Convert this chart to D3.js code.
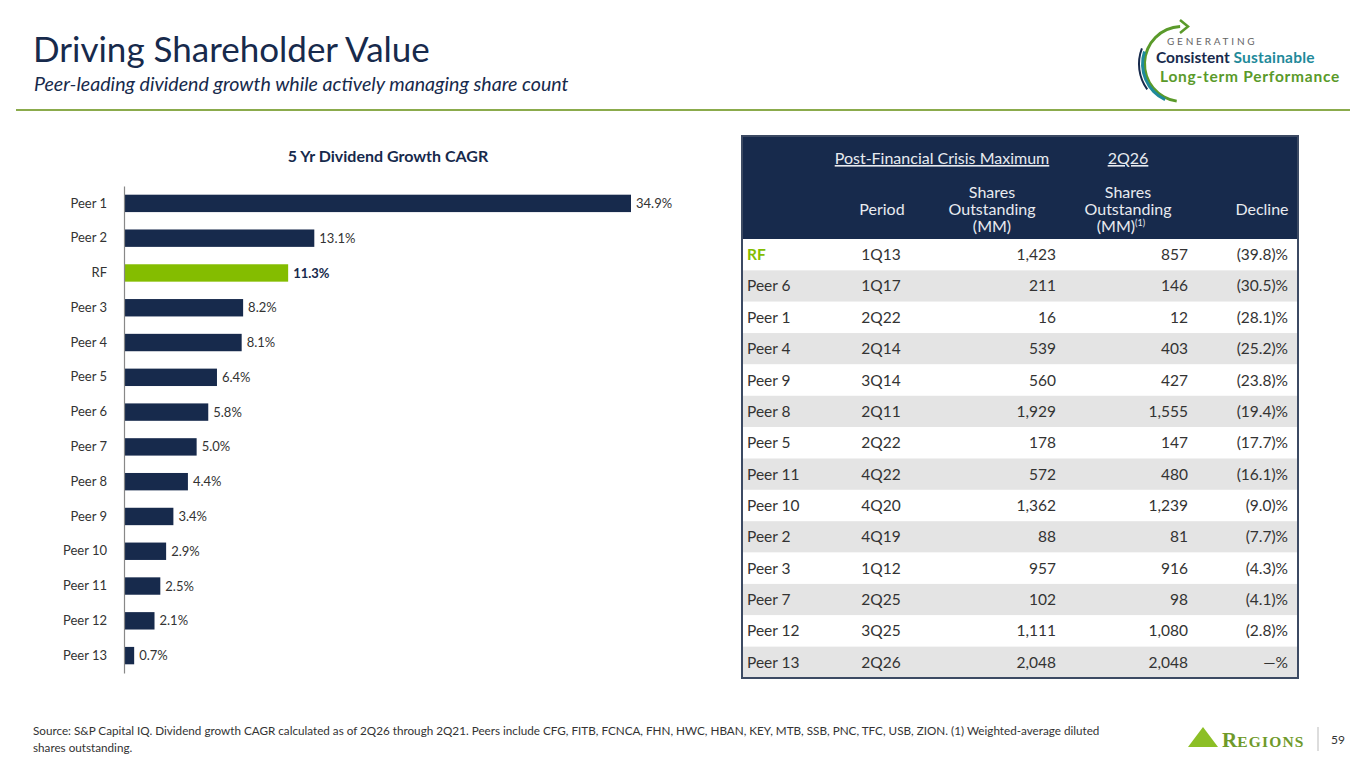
<!DOCTYPE html>
<html>
<head>
<meta charset="utf-8">
<script src="https://d3js.org/d3.v7.min.js"></script>
<style>
  body { margin: 0; background: #fff; }
  svg { display: block; font-family: Lato, "Noto Sans", sans-serif; }
</style>
</head>
<body>
<svg id="slide" width="1365" height="768"></svg>
<script>
// bar chart data
const peers = ["Peer 1", "Peer 2", "RF", "Peer 3", "Peer 4", "Peer 5", "Peer 6", "Peer 7", "Peer 8", "Peer 9", "Peer 10", "Peer 11", "Peer 12", "Peer 13"];
const cagr = [34.9, 13.1, 11.3, 8.2, 8.1, 6.4, 5.8, 5.0, 4.4, 3.4, 2.9, 2.5, 2.1, 0.7];

// table data
const tableNames = ["RF", "Peer 6", "Peer 1", "Peer 4", "Peer 9", "Peer 8", "Peer 5", "Peer 11", "Peer 10", "Peer 2", "Peer 3", "Peer 7", "Peer 12", "Peer 13"];
const periods = ["1Q13", "1Q17", "2Q22", "2Q14", "3Q14", "2Q11", "2Q22", "4Q22", "4Q20", "4Q19", "1Q12", "2Q25", "3Q25", "2Q26"];
const maxShares = [1423, 211, 16, 539, 560, 1929, 178, 572, 1362, 88, 957, 102, 1111, 2048];
const currentShares = [857, 146, 12, 403, 427, 1555, 147, 480, 1239, 81, 916, 98, 1080, 2048];
const declines = ["(39.8)%", "(30.5)%", "(28.1)%", "(25.2)%", "(23.8)%", "(19.4)%", "(17.7)%", "(16.1)%", "(9.0)%", "(7.7)%", "(4.3)%", "(4.1)%", "(2.8)%", "—%"];

const navy = "#172a4c";
const green = "#84bd00";
const textGrey = "#333";

const svg = d3.select("#slide");

// ---- header ----
svg.append("text")
    .attr("x", 33).attr("y", 62)
    .text("Driving Shareholder Value")
    .attr("font-size", "35px")
    .attr("fill", navy);

svg.append("text")
    .attr("x", 34).attr("y", 91)
    .text("Peer-leading dividend growth while actively managing share count")
    .attr("font-size", "19.6px")
    .attr("font-style", "italic")
    .attr("fill", navy);

svg.append("line")
    .attr("x1", 16).attr("x2", 1350)
    .attr("y1", 110).attr("y2", 110)
    .attr("stroke", "#8bab4c")
    .attr("stroke-width", 2);

// ---- logo top right ----
const logo = svg.append("g").attr("transform", "translate(1182,64)");
const arc = d3.arc();
logo.append("path")
    .attr("d", arc({innerRadius: 36, outerRadius: 39, startAngle: -0.05, endAngle: -3.0}))
    .attr("fill", "#5a9a2a");
logo.append("path")
    .attr("d", "M-2,-44 L6,-37.5 L-2,-31")
    .attr("fill", "none").attr("stroke", "#5a9a2a").attr("stroke-width", 2.5);
logo.append("path")
    .attr("d", arc({innerRadius: 38, outerRadius: 41, startAngle: -1.25, endAngle: -2.7}))
    .attr("fill", "#1f8a9a");
logo.append("path")
    .attr("d", arc({innerRadius: 42, outerRadius: 44, startAngle: -1.2, endAngle: -2.2}))
    .attr("fill", navy);

svg.append("text")
    .attr("x", 1167).attr("y", 45)
    .text("GENERATING")
    .attr("font-size", "10px")
    .attr("letter-spacing", "2.8px")
    .attr("fill", "#666");
const l2 = svg.append("text")
    .attr("x", 1156).attr("y", 63)
    .attr("font-size", "15.5px")
    .attr("font-weight", "bold");
l2.append("tspan").text("Consistent ").attr("fill", navy);
l2.append("tspan").text("Sustainable").attr("fill", "#1f8a9a").attr("letter-spacing", "0.2px");
svg.append("text")
    .attr("x", 1160).attr("y", 82)
    .text("Long-term Performance")
    .attr("font-size", "15.5px")
    .attr("letter-spacing", "0.75px")
    .attr("font-weight", "bold")
    .attr("fill", "#5a9a2a");

// ---- bar chart ----
const chartLeft = 124;
const x = d3.scaleLinear().domain([0, 34.9]).range([chartLeft, 631]);
const y = d3.scaleBand().domain(peers).range([186, 673]).paddingInner(0.5).paddingOuter(0.25);

svg.append("text")
    .attr("x", 388).attr("y", 162)
    .attr("text-anchor", "middle")
    .text("5 Yr Dividend Growth CAGR")
    .attr("font-size", "16px")
    .attr("font-weight", "bold")
    .attr("fill", navy);

svg.selectAll(".bar")
    .data(peers)
    .enter().append("rect")
    .attr("class", "bar")
    .attr("x", chartLeft)
    .attr("y", d => y(d))
    .attr("width", (d, i) => x(cagr[i]) - chartLeft)
    .attr("height", y.bandwidth())
    .attr("fill", d => d === "RF" ? green : navy);

const yAxis = svg.append("g")
    .attr("transform", `translate(${chartLeft},0)`)
    .call(d3.axisLeft(y).tickSize(0).tickPadding(17));
yAxis.select(".domain").attr("stroke", "#888").attr("stroke-width", 1.2);
yAxis.selectAll("text")
    .attr("font-family", "Lato, sans-serif")
    .attr("font-size", "13px")
    .attr("fill", textGrey);

svg.selectAll(".val")
    .data(peers)
    .enter().append("text")
    .attr("class", "val")
    .attr("x", (d, i) => x(cagr[i]) + 5)
    .attr("y", d => y(d) + y.bandwidth() / 2)
    .attr("dy", "0.35em")
    .text((d, i) => cagr[i].toFixed(1) + "%")
    .attr("font-size", "13px")
    .attr("font-weight", d => d === "RF" ? "bold" : "normal")
    .attr("fill", d => d === "RF" ? navy : textGrey);

// ---- table ----
const tLeft = 742, tRight = 1298, tTop = 136, headBottom = 239, tBottom = 678;
const rows = d3.scaleBand().domain(d3.range(tableNames.length)).range([headBottom, tBottom]);
const fmt = d3.format(",");

svg.append("rect")
    .attr("x", tLeft).attr("y", tTop)
    .attr("width", tRight - tLeft).attr("height", headBottom - tTop)
    .attr("fill", navy);

svg.selectAll(".row")
    .data(tableNames)
    .enter().append("rect")
    .attr("class", "row")
    .attr("x", tLeft).attr("y", (d, i) => rows(i))
    .attr("width", tRight - tLeft).attr("height", rows.bandwidth())
    .attr("fill", (d, i) => i % 2 ? "#e4e4e4" : "#fff");

svg.append("rect")
    .attr("x", tLeft).attr("y", tTop)
    .attr("width", tRight - tLeft).attr("height", tBottom - tTop)
    .attr("fill", "none")
    .attr("stroke", "#3c4a63")
    .attr("stroke-width", 2);

const headColor = "#e8ebf0";
const headSize = "16px";
function headText(xp, yp, t, anchor) {
    return svg.append("text")
        .attr("x", xp).attr("y", yp)
        .attr("text-anchor", anchor || "middle")
        .text(t)
        .attr("font-size", headSize)
        .attr("fill", headColor);
}
headText(942, 164, "Post-Financial Crisis Maximum").attr("text-decoration", "underline");
headText(1128, 164, "2Q26").attr("text-decoration", "underline");
headText(882, 215, "Period");
headText(992, 198, "Shares");
headText(992, 215, "Outstanding");
headText(992, 232, "(MM)");
headText(1128, 198, "Shares");
headText(1128, 215, "Outstanding");
const mm = headText(1121, 232, "(MM)");
mm.append("tspan").text("(1)").attr("font-size", "9px").attr("dy", "-6");
headText(1262, 215, "Decline");

const rowText = (cls, xp, anchor, fn) => svg.selectAll("." + cls)
    .data(tableNames)
    .enter().append("text")
    .attr("class", cls)
    .attr("x", xp)
    .attr("y", (d, i) => rows(i) + rows.bandwidth() / 2)
    .attr("dy", "0.35em")
    .attr("text-anchor", anchor)
    .attr("font-size", "15.5px")
    .attr("fill", textGrey)
    .text(fn);

rowText("c-name", 747, "start", d => d)
    .attr("fill", d => d === "RF" ? green : textGrey)
    .attr("font-weight", d => d === "RF" ? "bold" : "normal");
rowText("c-period", 881, "middle", (d, i) => periods[i]);
rowText("c-max", 1056, "end", (d, i) => fmt(maxShares[i]));
rowText("c-cur", 1188, "end", (d, i) => fmt(currentShares[i]));
rowText("c-dec", 1288, "end", (d, i) => declines[i]);

// ---- footer ----
const src = svg.append("text")
    .attr("x", 33).attr("y", 735)
    .attr("font-size", "11.7px")
    .attr("fill", textGrey);
src.append("tspan").attr("x", 33).attr("dy", 0)
    .text("Source: S&P Capital IQ.  Dividend growth CAGR calculated as of 2Q26 through 2Q21. Peers include CFG, FITB, FCNCA, FHN, HWC, HBAN, KEY, MTB, SSB, PNC, TFC, USB, ZION. (1) Weighted-average diluted");
src.append("tspan").attr("x", 33).attr("dy", 17).text("shares outstanding.");

// Regions logo mark
svg.append("path")
    .attr("d", "M1188,747 L1203,727 L1218,747 Z")
    .attr("fill", "#8cbf26");
const reg = svg.append("text")
    .attr("x", 1222).attr("y", 747)
    .attr("font-family", "'Liberation Serif', serif")
    .attr("font-weight", "bold")
    .attr("fill", "#6f9a2a");
reg.append("tspan").text("R").attr("font-size", "21px");
reg.append("tspan").text("EGIONS").attr("font-size", "15.5px").attr("letter-spacing", "1.2px");

svg.append("line")
    .attr("x1", 1318).attr("x2", 1318)
    .attr("y1", 727).attr("y2", 751)
    .attr("stroke", "#bbb");
svg.append("text")
    .attr("x", 1331).attr("y", 744)
    .text("59")
    .attr("font-size", "12px")
    .attr("fill", textGrey);
</script>
</body>
</html>
